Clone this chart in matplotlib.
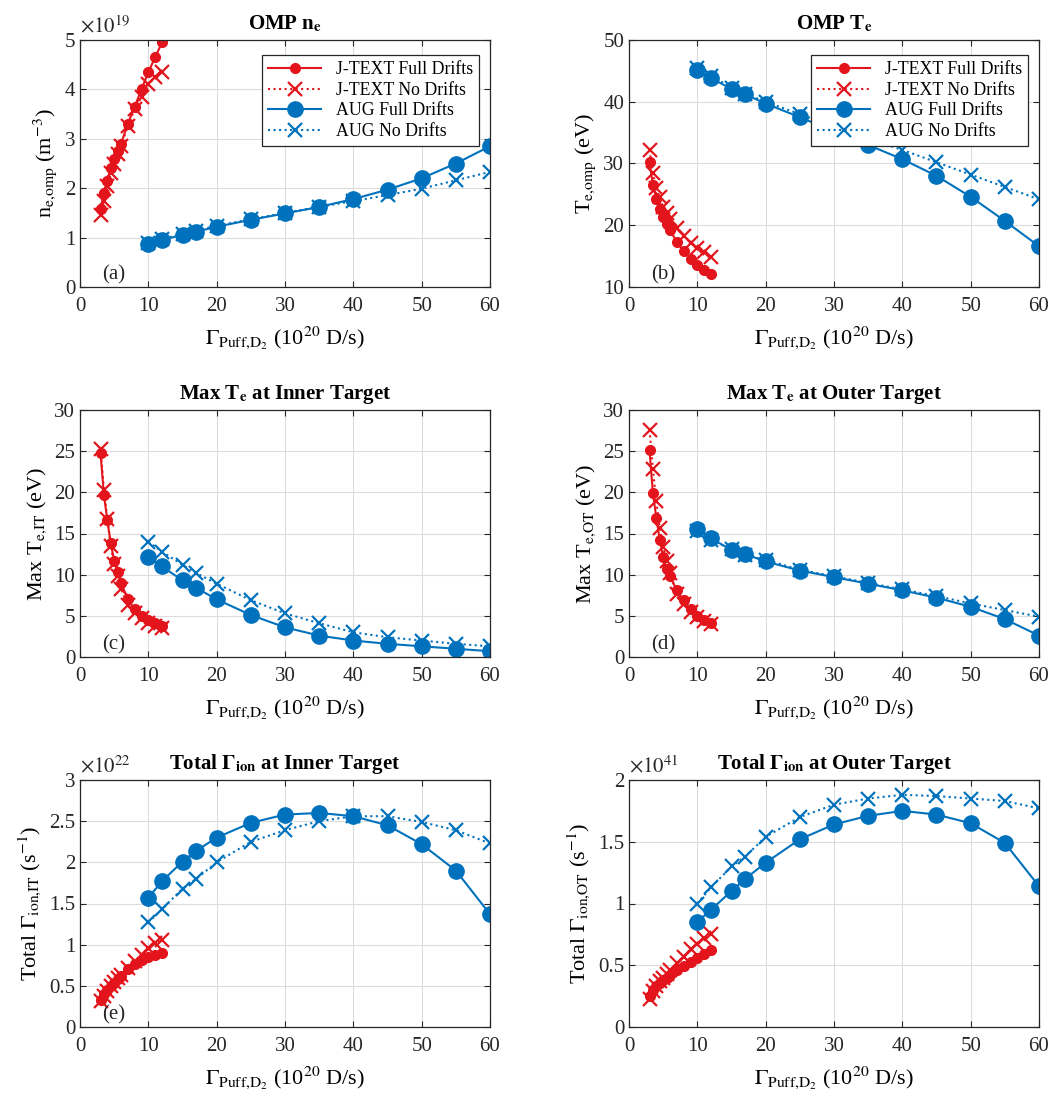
import numpy as np
import matplotlib
matplotlib.use("Agg")
import matplotlib.pyplot as plt
from matplotlib.ticker import FuncFormatter, MultipleLocator

plt.rcParams["font.family"] = ["Liberation Serif", "DejaVu Serif"]
plt.rcParams["mathtext.fontset"] = "stix"

RED = "#E3141C"
BLUE = "#0072BD"

# --- DATA ---
# gas puff rates (10^20 D/s)
x_jtext = [3, 3.5, 4, 4.5, 5, 5.5, 6, 7, 8, 9, 10, 11, 12]
x_aug = [10, 12, 15, 17, 20, 25, 30, 35, 40, 45, 50, 55, 60]

# (a) OMP n_e (x1e19 m^-3)
ne_jt_full = [1.57, 1.9, 2.15, 2.4, 2.6, 2.75, 2.9, 3.3, 3.65, 4.0, 4.35, 4.65, 4.95]
ne_jt_no = [1.45, 1.75, 2.05, 2.3, 2.5, 2.7, 2.85, 3.25, 3.6, 3.85, 4.1, 4.25, 4.35]
ne_aug_full = [0.88, 0.95, 1.06, 1.12, 1.22, 1.36, 1.49, 1.62, 1.78, 1.97, 2.2, 2.5, 2.85]
ne_aug_no = [0.9, 0.97, 1.07, 1.14, 1.24, 1.37, 1.5, 1.62, 1.74, 1.86, 1.99, 2.16, 2.33]

# (b) OMP T_e (eV)
te_jt_full = [30.3, 26.5, 24.3, 22.6, 21.3, 20.2, 19.2, 17.3, 15.8, 14.6, 13.6, 12.8, 12.1]
te_jt_no = [32.2, 28.4, 26.0, 24.5, 23.0, 22.0, 21.0, 19.5, 18.3, 17.2, 16.3, 15.6, 14.9]
te_aug_full = [45.1, 43.8, 42.1, 41.2, 39.7, 37.5, 35.2, 33.0, 30.7, 28.0, 24.6, 20.7, 16.6]
te_aug_no = [45.5, 44.2, 42.3, 41.3, 40.0, 38.0, 36.0, 34.0, 32.2, 30.2, 28.2, 26.2, 24.2]

# (c) max T_e inner target (eV)
tit_jt_full = [24.8, 19.7, 16.6, 13.8, 11.7, 10.3, 9.0, 7.0, 5.8, 5.0, 4.5, 4.1, 3.8]
tit_jt_no = [25.3, 20.3, 16.8, 13.5, 11.3, 9.8, 8.3, 6.3, 5.3, 4.7, 4.1, 3.8, 3.5]
tit_aug_full = [12.2, 11.0, 9.3, 8.4, 7.0, 5.1, 3.6, 2.6, 2.0, 1.6, 1.3, 1.0, 0.7]
tit_aug_no = [14.0, 12.8, 11.2, 10.2, 8.9, 6.9, 5.3, 4.1, 3.0, 2.4, 2.0, 1.6, 1.3]

# (d) max T_e outer target (eV)
tot_jt_full = [25.1, 19.9, 16.9, 14.2, 12.1, 10.7, 9.8, 8.1, 6.9, 5.8, 5.0, 4.5, 4.1]
tot_jt_no = [27.6, 22.8, 18.9, 15.7, 13.4, 11.6, 10.2, 7.7, 6.4, 5.5, 4.8, 4.4, 4.0]
tot_aug_full = [15.5, 14.4, 13.0, 12.5, 11.6, 10.5, 9.7, 8.9, 8.1, 7.2, 6.1, 4.6, 2.6]
tot_aug_no = [15.3, 14.2, 13.1, 12.4, 11.8, 10.6, 9.8, 9.0, 8.2, 7.4, 6.5, 5.7, 4.9]

# (e) total ion flux inner target (x1e22 s^-1)
fit_jt_full = [0.33, 0.40, 0.45, 0.50, 0.54, 0.58, 0.62, 0.70, 0.76, 0.81, 0.85, 0.88, 0.90]
fit_jt_no = [0.32, 0.38, 0.44, 0.50, 0.55, 0.59, 0.63, 0.72, 0.80, 0.88, 0.96, 1.02, 1.06]
fit_aug_full = [1.57, 1.77, 2.01, 2.14, 2.30, 2.48, 2.58, 2.60, 2.56, 2.45, 2.22, 1.90, 1.37]
fit_aug_no = [1.27, 1.43, 1.68, 1.80, 2.00, 2.25, 2.39, 2.50, 2.56, 2.56, 2.49, 2.39, 2.23]

# (f) total ion flux outer target (x1e41 s^-1)
fot_jt_full = [0.25, 0.30, 0.33, 0.36, 0.38, 0.40, 0.42, 0.46, 0.49, 0.53, 0.56, 0.59, 0.62]
fot_jt_no = [0.23, 0.29, 0.33, 0.37, 0.40, 0.43, 0.46, 0.52, 0.57, 0.63, 0.67, 0.72, 0.75]
fot_aug_full = [0.85, 0.95, 1.10, 1.20, 1.33, 1.52, 1.64, 1.71, 1.75, 1.72, 1.65, 1.49, 1.14]
fot_aug_no = [1.00, 1.13, 1.30, 1.38, 1.54, 1.70, 1.80, 1.85, 1.88, 1.87, 1.85, 1.83, 1.77]

PANELS = [
    # title, ylabel, (jt_full, jt_no, aug_full, aug_no), ylim, ytick step, exponent, tag
    (r"OMP n$_{\mathbf{e}}$", r"n$_{\mathrm{e{,}omp}}$ (m$^{-3}$)",
     (ne_jt_full, ne_jt_no, ne_aug_full, ne_aug_no), (0, 5), 1, 19, "(a)"),
    (r"OMP T$_{\mathbf{e}}$", r"T$_{\mathrm{e{,}omp}}$ (eV)",
     (te_jt_full, te_jt_no, te_aug_full, te_aug_no), (10, 50), 10, None, "(b)"),
    (r"Max T$_{\mathbf{e}}$ at Inner Target", r"Max T$_{\mathrm{e{,}IT}}$ (eV)",
     (tit_jt_full, tit_jt_no, tit_aug_full, tit_aug_no), (0, 30), 5, None, "(c)"),
    (r"Max T$_{\mathbf{e}}$ at Outer Target", r"Max T$_{\mathrm{e{,}OT}}$ (eV)",
     (tot_jt_full, tot_jt_no, tot_aug_full, tot_aug_no), (0, 30), 5, None, "(d)"),
    (r"Total $\mathbf{\Gamma}_{\mathbf{ion}}$ at Inner Target",
     r"Total $\mathrm{\Gamma}_{\mathrm{ion{,}IT}}$ (s$^{-1}$)",
     (fit_jt_full, fit_jt_no, fit_aug_full, fit_aug_no), (0, 3), 0.5, 22, "(e)"),
    (r"Total $\mathbf{\Gamma}_{\mathbf{ion}}$ at Outer Target",
     r"Total $\mathrm{\Gamma}_{\mathrm{ion{,}OT}}$ (s$^{-1}$)",
     (fot_jt_full, fot_jt_no, fot_aug_full, fot_aug_no), (0, 2), 0.5, 41, None),
]

W, H = 1062, 1110
fig = plt.figure(figsize=(W / 100, H / 100), dpi=100)

lefts = [80, 629]
bottoms = [287, 657, 1027]
aw, ah = 410, 247

for i, (title, ylabel, series, ylim, ystep, expo, tag) in enumerate(PANELS):
    col, row = i % 2, i // 2
    ax = fig.add_axes([lefts[col] / W, 1 - bottoms[row] / H, aw / W, ah / H])
    scale = 10.0 ** expo if expo else 1.0
    jf, jn, af, an = [np.array(s) * scale for s in series]

    ax.plot(x_jtext, jf, "-", color=RED, marker="o", ms=7, lw=1.5, label="J-TEXT Full Drifts")
    ax.plot(x_jtext, jn, ":", color=RED, marker="x", ms=10, mew=1.6, lw=1.5, label="J-TEXT No Drifts")
    ax.plot(x_aug, af, "-", color=BLUE, marker="o", ms=11, lw=1.5, label="AUG Full Drifts")
    ax.plot(x_aug, an, ":", color=BLUE, marker="x", ms=10, mew=1.6, lw=1.5, label="AUG No Drifts")

    ax.set_xlim(0, 60)
    ax.set_ylim(ylim[0] * scale, ylim[1] * scale)
    ax.xaxis.set_major_locator(MultipleLocator(10))
    ax.yaxis.set_major_locator(MultipleLocator(ystep * scale))
    ax.yaxis.set_major_formatter(FuncFormatter(lambda v, p, s=scale: "%g" % round(v / s, 6)))
    ax.tick_params(direction="in", top=True, right=True, labelsize=15, colors="#262626", length=4)
    ax.tick_params(axis="x", pad=7)
    ax.grid(True, color="#dcdcdc", lw=0.8)
    ax.set_axisbelow(True)
    for sp in ax.spines.values():
        sp.set_color("#262626")
        sp.set_linewidth(0.9)

    ax.set_title(title, fontsize=15, fontweight="bold", pad=8)
    ax.set_ylabel(ylabel, fontsize=16, labelpad=4)
    ax.set_xlabel(r"$\mathrm{\Gamma}_{\mathrm{Puff{,}D_2}}$ (10$^{20}$ D/s)", fontsize=16, labelpad=6)
    if tag:
        ax.text(0.055, 0.03, tag, transform=ax.transAxes, fontsize=15, color="#262626")
    if expo:
        ax.text(0.0, 1.01, r"$\times 10^{%d}$" % expo, transform=ax.transAxes,
                fontsize=15, color="#262626", va="bottom", ha="left")
    if row == 0:
        leg = ax.legend(loc="upper right", fontsize=12.8, frameon=True, fancybox=False,
                        framealpha=1, borderpad=0.35, labelspacing=0.2, handlelength=3.0,
                        borderaxespad=0, bbox_to_anchor=(0.973, 0.939))
        leg.get_frame().set_edgecolor("#262626")
        leg.get_frame().set_linewidth(0.9)

fig.savefig("out.png", dpi=100)
